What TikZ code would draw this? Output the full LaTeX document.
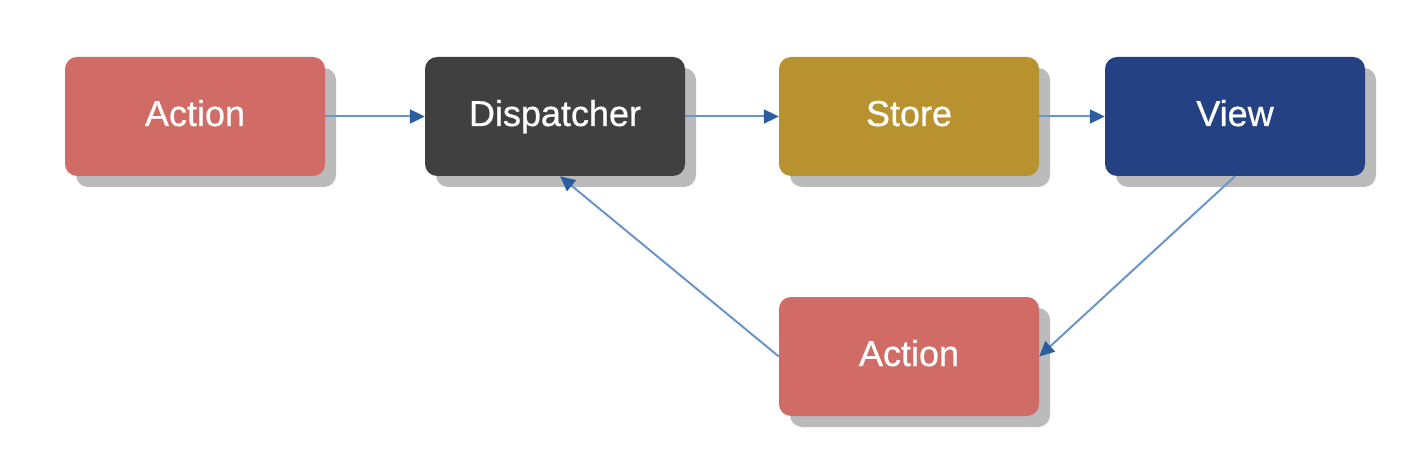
\documentclass[tikz,border=0pt]{standalone}
\usepackage{fontspec}
\setmainfont{Liberation Sans}
\newfontfamily\boxfont[FakeBold=0.7]{Liberation Sans}
\usetikzlibrary{shadows,arrows.meta}
\definecolor{actred}{HTML}{D06B66}
\definecolor{dispgray}{HTML}{404040}
\definecolor{storegold}{HTML}{B8922F}
\definecolor{viewblue}{HTML}{244283}
\definecolor{shadowgray}{HTML}{BBBBBB}
\definecolor{arrline}{HTML}{6A95C8}
\definecolor{arrhead}{HTML}{2A5EA0}
\tikzset{
  box/.style={rectangle, rounded corners=12pt, minimum width=260pt, minimum height=119pt,
    inner sep=0pt, text=white, font=\boxfont\fontsize{36}{40}\selectfont,
    text height=26pt, text depth=7pt,
    drop shadow={shadow xshift=11pt, shadow yshift=-11pt, fill=shadowgray, opacity=1}},
  conn/.style={draw=arrline, line width=2pt,
    -{Triangle[length=15pt,width=14pt,fill=arrhead,color=arrhead]}}
}
\begin{document}
\begin{tikzpicture}[x=1pt,y=-1pt]
\useasboundingbox[fill=white] (0,0) rectangle (1420,462);
\node[box, fill=actred] (act1) at (195,116.5) {Action};
\node[box, fill=dispgray] (disp) at (555,116.5) {Dispatcher};
\node[box, fill=storegold] (store) at (909,116.5) {Store};
\node[box, fill=viewblue] (view) at (1235,116.5) {View};
\node[box, fill=actred] (act2) at (909,356.5) {Action};
\draw[conn] (act1) -- (disp);
\draw[conn] (disp) -- (store);
\draw[conn] (store) -- (view);
\draw[conn] (view.south) -- (act2.east);
\draw[conn] (act2.west) -- ([xshift=5pt]disp.south);
\end{tikzpicture}
\end{document}
